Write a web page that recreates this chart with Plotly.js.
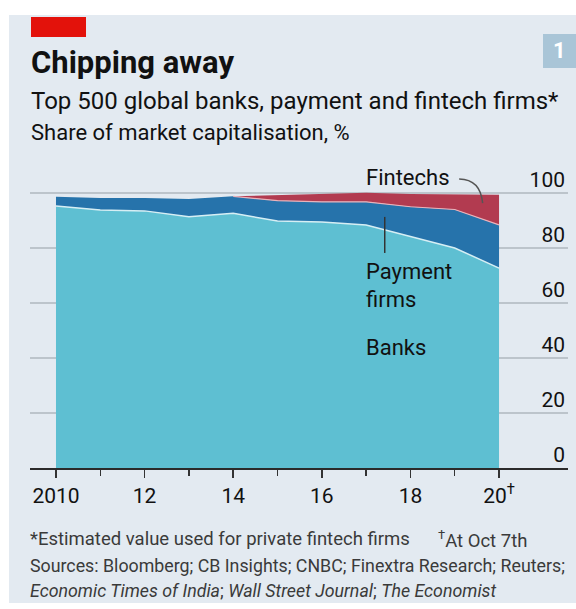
<!DOCTYPE html>
<html>
<head>
<meta charset="utf-8">
<script src="https://cdn.plot.ly/plotly-3.0.1.min.js"></script>
<style>
  html, body { margin: 0; padding: 0; background: #fff; }
  #chart { width: 576px; height: 609px; }
</style>
</head>
<body>
<div id="chart"></div>
<script>
// data, % of market cap
const years = [2010, 2011, 2012, 2013, 2014, 2015, 2016, 2017, 2018, 2019, 2020];
const banks = [95.3, 93.8, 93.5, 91.4, 92.6, 89.8, 89.5, 88.4, 84.2, 80.0, 72.7];
const payments = [3.3, 4.4, 4.7, 6.4, 6.2, 7.4, 7.3, 8.4, 10.8, 14.0, 15.7];
const fintechs = [0, 0, 0, 0, 0, 2.1, 2.8, 3.3, 4.6, 5.4, 11.0];

const xTickVals = [2010, 2012, 2014, 2016, 2018, 2020];
const xTickText = ["2010", "12", "14", "16", "18", "20<sup>†</sup>"];
const xMinorVals = [2011, 2013, 2015, 2017, 2019];
const yTickVals = [0, 20, 40, 60, 80, 100];

// plot area in pixels
const L = 30, R = 568, T = 160, B = 468;
const px = x => (x - L) / (R - L);
const py = y => (B - y) / (B - T);

const FONT = "Roboto, 'Open Sans', sans-serif";
const sepColor = "#d6eef4";

// payment/fintech boundary, only where fintechs exist
const sepX = [], sepY = [];
years.forEach((yr, i) => {
  if (i >= 4) { sepX.push(yr); sepY.push(banks[i] + payments[i]); }
});

const traces = [
  {
    x: years, y: banks, type: "scatter", mode: "lines", stackgroup: "one",
    fillcolor: "#5ebfd2", line: { color: sepColor, width: 1.5 }, name: "Banks"
  },
  {
    x: years, y: payments, type: "scatter", mode: "lines", stackgroup: "one",
    fillcolor: "#2673ab", line: { width: 0 }, name: "Payment firms"
  },
  {
    x: years, y: fintechs, type: "scatter", mode: "lines", stackgroup: "one",
    fillcolor: "#b23b50", line: { width: 0 }, name: "Fintechs"
  },
  {
    x: sepX, y: sepY, type: "scatter", mode: "lines",
    line: { color: "#e9b3bb", width: 1.2 }, showlegend: false
  }
];

function note(text, x, y, size, opts) {
  return Object.assign({
    text: text, xref: "paper", yref: "paper", x: px(x), y: py(y),
    xanchor: "left", yanchor: "middle", showarrow: false,
    font: { family: FONT, size: size, color: "#111" }
  }, opts || {});
}
const foot1 = { family: FONT, size: 18.5, color: "#3a3a3a" };
const foot2 = { family: FONT, size: 17.8, color: "#3a3a3a" };

const annotations = [
  note("<b>Chipping away</b>", 29, 62, 31),
  note("Top 500 global banks, payment and fintech firms*", 29, 101, 24),
  note("Share of market capitalisation, %", 29, 132, 22),
  note("<b>1</b>", 559, 51, 22, { xanchor: "center", font: { family: FONT, size: 22, color: "#fff" } }),
  note("Fintechs", 364, 177, 22),
  note("Payment", 364, 271, 22),
  note("firms", 364, 299, 22),
  note("Banks", 364, 347, 22),
  note("*Estimated value used for private fintech firms", 28, 539, 18.5, { font: foot1 }),
  note("<sup>†</sup>At Oct 7th", 436, 539, 18.5, { font: foot1 }),
  note("Sources: Bloomberg; CB Insights; CNBC; Finextra Research; Reuters;", 28, 565, 17.8, { font: foot2 }),
  note("<i>Economic Times of India</i>; <i>Wall Street Journal</i>; <i>The Economist</i>", 28, 590, 17.8, { font: foot2 })
];

const shapes = [
  { type: "rect", xref: "paper", yref: "paper", layer: "below",
    x0: px(9), x1: px(576), y0: py(15), y1: py(603), fillcolor: "#e3eaf1", line: { width: 0 } },
  { type: "rect", xref: "paper", yref: "paper",
    x0: px(31), x1: px(86), y0: py(17), y1: py(37), fillcolor: "#e3120b", line: { width: 0 } },
  { type: "rect", xref: "paper", yref: "paper",
    x0: px(543), x1: px(576), y0: py(34), y1: py(68), fillcolor: "#a9c5d7", line: { width: 0 } },
  // curved pointer from "Fintechs"
  { type: "path", xref: "x", yref: "y",
    path: "M 2019.1,105.1 Q 2019.58,105.0 2019.63,96.3", line: { color: "#555", width: 1.5 } },
  // pointer from "Payment firms"
  { type: "line", xref: "x", yref: "y", x0: 2017.42, x1: 2017.42, y0: 91.3, y1: 78.2,
    line: { color: "#333", width: 1.5 } }
];

const layout = {
  width: 576, height: 609,
  margin: { l: L, r: 576 - R, t: T, b: 609 - B },
  paper_bgcolor: "#ffffff",
  plot_bgcolor: "rgba(0,0,0,0)",
  showlegend: false,
  font: { family: FONT, color: "#111" },
  xaxis: {
    range: [2009.4135, 2021.5565],
    showgrid: false, zeroline: false,
    showline: true, linecolor: "#2b2b2b", linewidth: 2,
    tickmode: "array", tickvals: xTickVals, ticktext: xTickText,
    ticks: "outside", ticklen: 8, tickwidth: 1.5, tickcolor: "#333",
    tickfont: { family: FONT, size: 21, color: "#111" },
    minor: { tickmode: "array", tickvals: xMinorVals, ticks: "outside", ticklen: 6, tickwidth: 1.5, tickcolor: "#333", showgrid: false }
  },
  yaxis: {
    range: [0, 112], side: "right",
    tickmode: "array", tickvals: yTickVals,
    showgrid: true, gridcolor: "#bcc4cb", gridwidth: 1.5,
    zeroline: false, showline: false, ticks: "",
    ticklabelposition: "inside", ticklabelshift: -13,
    tickfont: { family: FONT, size: 21, color: "#111" }
  },
  shapes: shapes,
  annotations: annotations
};

Plotly.newPlot("chart", traces, layout, { displayModeBar: false, staticPlot: true });
</script>
</body>
</html>
